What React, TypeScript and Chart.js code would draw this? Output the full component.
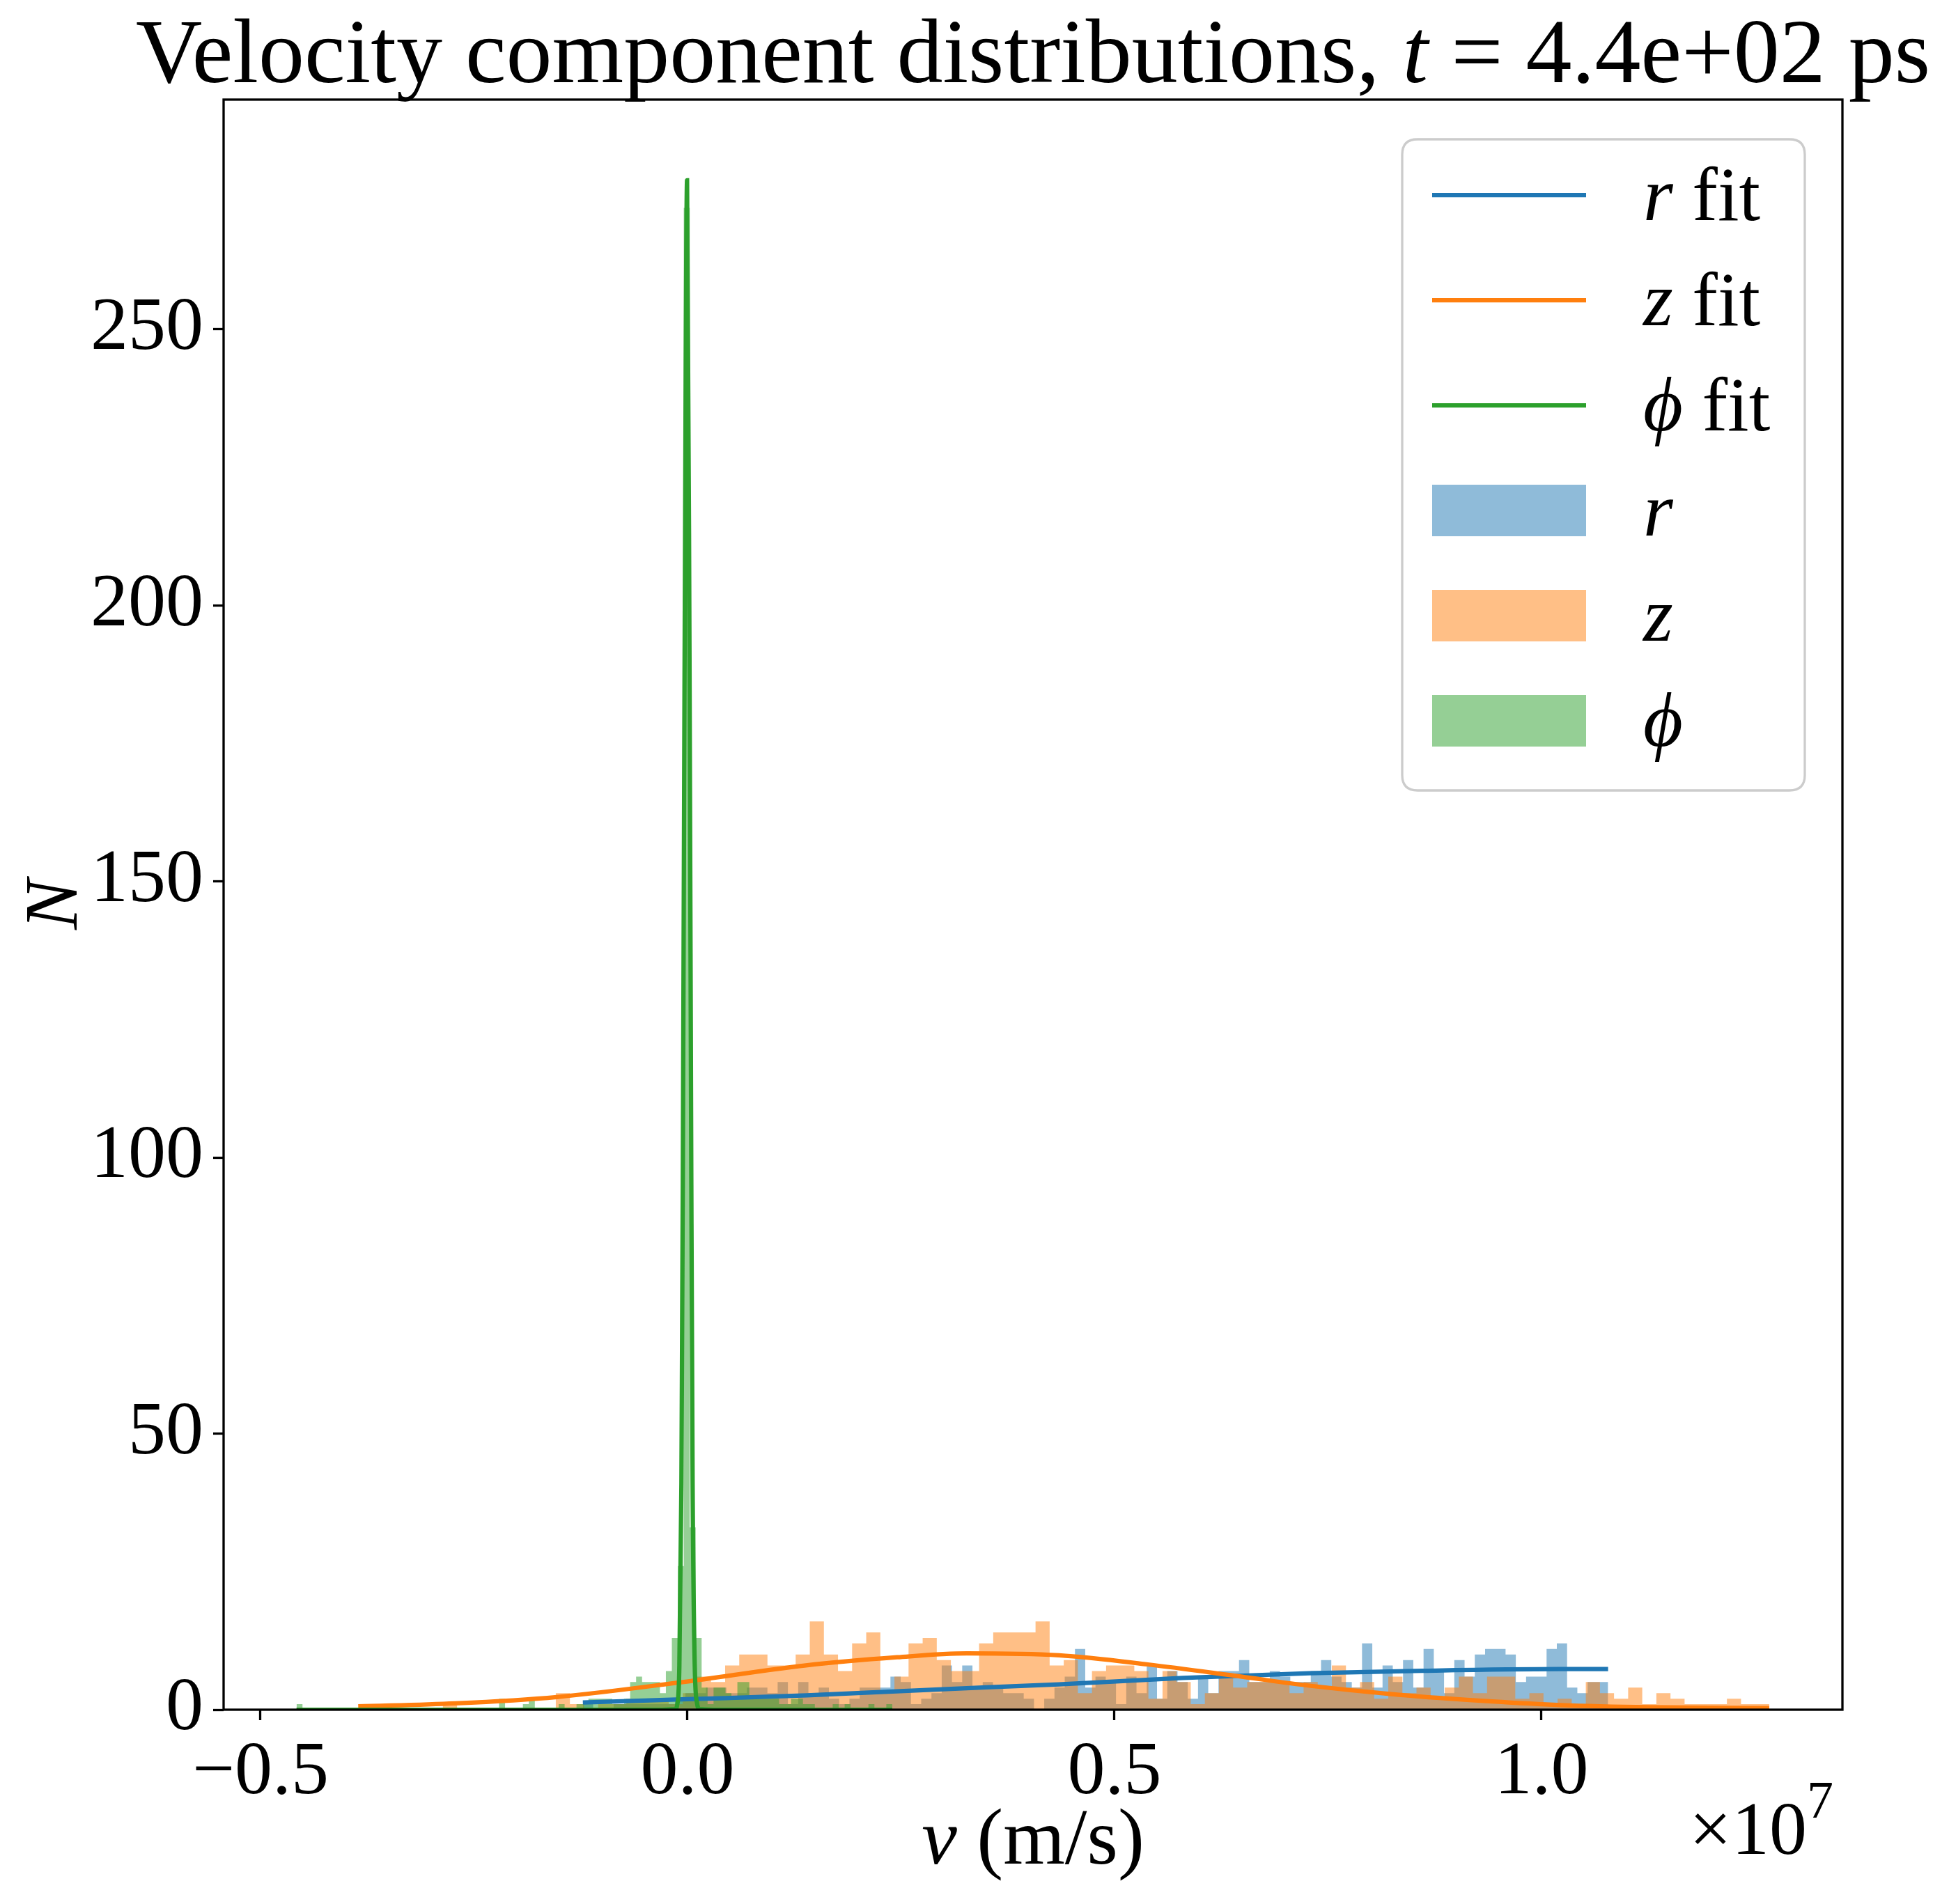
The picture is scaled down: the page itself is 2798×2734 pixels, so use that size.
import React, { useEffect, useRef } from "react";
import { Chart, registerables } from "chart.js";

Chart.register(...registerables);

const W = 2798;
const H = 2734;
const SERIF = "'Liberation Serif', 'DejaVu Serif', 'Times New Roman', serif";

const BLUE = "#1f77b4";
const ORANGE = "#ff7f0e";
const GREEN = "#2ca02c";
const BLUE_A = "rgba(31,119,180,0.5)";
const ORANGE_A = "rgba(255,127,14,0.5)";
const GREEN_A = "rgba(44,160,44,0.5)";

// velocities in units of 1e7 m/s
const xTicks = [-0.5, 0.0, 0.5, 1.0];
const yTicks = [0, 50, 100, 150, 200, 250];
const xLimits = [-0.5432, 1.3524];
const yLimits = [0, 291.6];

// histogram ranges (min, max) with 100 bins each
const rRange = [-0.1225, 1.078];
const zRange = [-0.3855, 1.2667];
const phiRange = [-0.4578, 0.2398];

const rCounts = [
  1, 0, 0, 1, 1, 1, 1, 1, 1, 2,
  3, 3, 4, 4, 3, 3, 4, 4, 3, 5,
  1, 5, 3, 4, 2, 1, 2, 4, 4, 4,
  6, 5, 1, 2, 3, 8, 5, 8, 4, 5,
  4, 3, 3, 2, 0, 2, 4, 6, 11, 4,
  6, 5, 1, 6, 3, 8, 2, 7, 5, 2,
  6, 3, 7, 7, 9, 5, 5, 7, 6, 5,
  5, 7, 9, 6, 5, 4, 12, 4, 8, 5,
  9, 4, 11, 7, 3, 9, 6, 10, 11, 11,
  10, 5, 6, 6, 11, 12, 4, 3, 5, 5,
];

const zCounts = [
  1, 0, 0, 0, 0, 0, 1, 0, 0, 0,
  0, 0, 0, 0, 3, 1, 0, 1, 1, 2,
  2, 2, 1, 3, 6, 5, 8, 10, 10, 8,
  8, 10, 16, 10, 7, 12, 14, 3, 6, 12,
  13, 9, 7, 7, 12, 14, 14, 14, 16, 8,
  9, 3, 7, 8, 8, 7, 2, 7, 5, 1,
  3, 6, 4, 5, 5, 5, 3, 5, 4, 8,
  4, 5, 2, 6, 3, 4, 2, 4, 6, 3,
  6, 6, 2, 3, 1, 2, 1, 5, 3, 2,
  4, 1, 3, 2, 1, 1, 1, 2, 1, 1,
];

const phiCounts = [
  1, 0, 0, 0, 0, 0, 0, 0, 0, 0,
  0, 0, 0, 0, 0, 0, 0, 0, 0, 0,
  0, 0, 0, 0, 0, 0, 0, 0, 0, 0,
  0, 0, 0, 0, 2, 0, 0, 0, 1, 2,
  0, 0, 0, 0, 1, 0, 0, 1, 1, 2,
  2, 2, 2, 1, 1, 2, 5, 6, 5, 5,
  5, 3, 7, 13, 26, 272, 33, 13, 4, 1,
  4, 4, 3, 2, 5, 5, 2, 2, 2, 2,
  2, 1, 1, 2, 2, 1, 1, 0, 0, 0,
  1, 0, 1, 0, 0, 0, 1, 0, 0, 1,
];

// fitted curves
const rFitX = [-0.1225, 0.0, 0.14, 0.29, 0.435, 0.58, 0.728, 0.86, 1.02, 1.078];
const rFitY = [1.3, 1.9, 2.6, 3.65, 4.6, 5.75, 6.6, 7.05, 7.35, 7.35];

const zFitX = [-0.3855, -0.272, -0.153, -0.006, 0.137, 0.2455, 0.327, 0.435, 0.539, 0.648, 0.728, 0.833, 0.942, 1.022, 1.126, 1.2667];
const zFitY = [0.6, 1.15, 2.3, 5.0, 8.0, 9.5, 10.2, 9.85, 8.2, 6.0, 4.35, 2.7, 1.5, 0.85, 0.45, 0.3];

const phiFitX = [-0.4578, -0.03, -0.0145, -0.0118, -0.0095, -0.0071, -0.0055, -0.0035, -0.0005, 0.0025, 0.0045, 0.006, 0.0085, 0.0113, 0.014, 0.03, 0.2398];
const phiFitY = [0, 0, 0.1, 1.1, 8, 41, 95, 185, 277, 185, 95, 41, 8, 1.1, 0.1, 0, 0];

function stepPoints(range: number[], counts: number[]) {
  const n = counts.length;
  const w = (range[1] - range[0]) / n;
  const pts = counts.map((c, i) => ({ x: range[0] + i * w, y: c }));
  pts.push({ x: range[1], y: counts[n - 1] });
  return pts;
}

function zip(xs: number[], ys: number[]) {
  return xs.map((x, i) => ({ x, y: ys[i] }));
}

type Run = [string, boolean];

function drawRuns(ctx: CanvasRenderingContext2D, parts: Run[], size: number, x: number, y: number, align: "left" | "center" | "right") {
  const fonts = parts.map(([, it]) => `${it ? "italic " : ""}${size}px ${SERIF}`);
  const widths = parts.map(([t], i) => {
    ctx.font = fonts[i];
    return ctx.measureText(t).width;
  });
  const total = widths.reduce((a, b) => a + b, 0);
  let cx = align === "left" ? x : align === "center" ? x - total / 2 : x - total;
  ctx.textAlign = "left";
  ctx.textBaseline = "alphabetic";
  parts.forEach(([t], i) => {
    ctx.font = fonts[i];
    ctx.fillText(t, cx, y);
    cx += widths[i];
  });
}

const legendItems: { sym: string; fit: boolean; line: string; fill: string }[] = [
  { sym: "r", fit: true, line: BLUE, fill: BLUE_A },
  { sym: "z", fit: true, line: ORANGE, fill: ORANGE_A },
  { sym: "\u03D5", fit: true, line: GREEN, fill: GREEN_A },
  { sym: "r", fit: false, line: BLUE, fill: BLUE_A },
  { sym: "z", fit: false, line: ORANGE, fill: ORANGE_A },
  { sym: "\u03D5", fit: false, line: GREEN, fill: GREEN_A },
];

const decor = {
  id: "decor",
  afterDatasetsDraw(chart: any) {
    const { ctx, chartArea: a } = chart;
    ctx.save();
    ctx.strokeStyle = "#000";
    ctx.lineWidth = 3.3;
    ctx.strokeRect(a.left, a.top, a.right - a.left, a.bottom - a.top);
    ctx.restore();
  },
  afterDraw(chart: any) {
    const { ctx, chartArea: a } = chart;
    const cx = (a.left + a.right) / 2;
    const cy = (a.top + a.bottom) / 2;
    ctx.save();
    ctx.fillStyle = "#000";
    // title
    drawRuns(ctx, [["Velocity component distributions, ", false], ["t", true], [" = 4.4e+02 ps", false]], 132, cx, 118, "center");
    // x label
    drawRuns(ctx, [["v", true], [" (m/s)", false]], 114, cx, 2676, "center");
    // y label
    ctx.save();
    ctx.translate(110, cy);
    ctx.rotate(-Math.PI / 2);
    drawRuns(ctx, [["N", true]], 108, 0, 0, "center");
    ctx.restore();
    // offset text
    ctx.font = `76px ${SERIF}`;
    const w7 = ctx.measureText("7").width;
    drawRuns(ctx, [["7", false]], 76, a.right - 13, 2610, "right");
    drawRuns(ctx, [["\u00D710", false]], 108, a.right - 13 - w7, 2662, "right");

    // legend
    const bx = 2013, by = 200, bw = 578, bh = 935, r = 22;
    ctx.beginPath();
    ctx.moveTo(bx + r, by);
    ctx.lineTo(bx + bw - r, by);
    ctx.quadraticCurveTo(bx + bw, by, bx + bw, by + r);
    ctx.lineTo(bx + bw, by + bh - r);
    ctx.quadraticCurveTo(bx + bw, by + bh, bx + bw - r, by + bh);
    ctx.lineTo(bx + r, by + bh);
    ctx.quadraticCurveTo(bx, by + bh, bx, by + bh - r);
    ctx.lineTo(bx, by + r);
    ctx.quadraticCurveTo(bx, by, bx + r, by);
    ctx.closePath();
    ctx.fillStyle = "rgba(255,255,255,0.8)";
    ctx.fill();
    ctx.strokeStyle = "#cccccc";
    ctx.lineWidth = 3.3;
    ctx.stroke();

    const rowY = [280, 431, 582, 733, 884, 1035];
    legendItems.forEach((it, i) => {
      const y = rowY[i];
      if (it.fit) {
        ctx.strokeStyle = it.line;
        ctx.lineWidth = 6.25;
        ctx.lineCap = "butt";
        ctx.beginPath();
        ctx.moveTo(2056, y);
        ctx.lineTo(2277, y);
        ctx.stroke();
      } else {
        ctx.fillStyle = it.fill;
        ctx.fillRect(2056, y - 37, 221, 74);
      }
      ctx.fillStyle = "#000";
      const parts: Run[] = it.fit ? [[it.sym, true], [" fit", false]] : [[it.sym, true]];
      drawRuns(ctx, parts, 110, 2359, y + 36, "left");
    });
    ctx.restore();
  },
};

export default function App() {
  const ref = useRef<HTMLCanvasElement | null>(null);
  useEffect(() => {
    if (!ref.current) return;
    const tickCommon = {
      color: "#000",
      font: { size: 108, family: SERIF },
      padding: 12,
      autoSkip: false,
      maxRotation: 0,
    };
    const gridCommon = {
      drawOnChartArea: false,
      drawTicks: true,
      tickLength: 15,
      tickWidth: 3.3,
      tickColor: "#000",
    };
    const chart = new Chart(ref.current, {
      type: "line",
      data: {
        datasets: [
          { label: "phi fit", data: zip(phiFitX, phiFitY), borderColor: GREEN, borderWidth: 6.25, pointRadius: 0, fill: false, cubicInterpolationMode: "monotone" },
          { label: "z fit", data: zip(zFitX, zFitY), borderColor: ORANGE, borderWidth: 6.25, pointRadius: 0, fill: false, cubicInterpolationMode: "monotone" },
          { label: "r fit", data: zip(rFitX, rFitY), borderColor: BLUE, borderWidth: 6.25, pointRadius: 0, fill: false, cubicInterpolationMode: "monotone" },
          { label: "phi", data: stepPoints(phiRange, phiCounts), stepped: true, fill: "origin", backgroundColor: GREEN_A, borderColor: "rgba(0,0,0,0)", borderWidth: 0, pointRadius: 0 },
          { label: "z", data: stepPoints(zRange, zCounts), stepped: true, fill: "origin", backgroundColor: ORANGE_A, borderColor: "rgba(0,0,0,0)", borderWidth: 0, pointRadius: 0 },
          { label: "r", data: stepPoints(rRange, rCounts), stepped: true, fill: "origin", backgroundColor: BLUE_A, borderColor: "rgba(0,0,0,0)", borderWidth: 0, pointRadius: 0 },
        ] as any,
      },
      options: {
        responsive: false,
        animation: false,
        devicePixelRatio: 1,
        events: [],
        layout: { padding: { top: 143, right: 153, left: 0, bottom: 0 } },
        plugins: { legend: { display: false }, tooltip: { enabled: false }, title: { display: false } },
        scales: {
          x: {
            type: "linear",
            min: xLimits[0],
            max: xLimits[1],
            afterBuildTicks: (s: any) => { s.ticks = xTicks.map((v) => ({ value: v })); },
            afterFit: (s: any) => { s.height = H - 2455; },
            grid: gridCommon,
            border: { display: false },
            ticks: {
              ...tickCommon,
              callback: (v: any) => (Number(v) < 0 ? "\u2212" : "") + Math.abs(Number(v)).toFixed(1),
            },
          },
          y: {
            type: "linear",
            min: yLimits[0],
            max: yLimits[1],
            afterBuildTicks: (s: any) => { s.ticks = yTicks.map((v) => ({ value: v })); },
            afterFit: (s: any) => { s.width = 321; },
            grid: gridCommon,
            border: { display: false },
            ticks: { ...tickCommon, padding: 14, callback: (v: any) => String(v) },
          },
        },
      } as any,
      plugins: [decor],
    });
    return () => chart.destroy();
  }, []);
  return (
    <div style={{ position: "absolute", left: 0, top: 0, width: W, height: H, background: "#fff" }}>
      <canvas ref={ref} width={W} height={H} style={{ display: "block", width: W, height: H }} />
    </div>
  );
}
